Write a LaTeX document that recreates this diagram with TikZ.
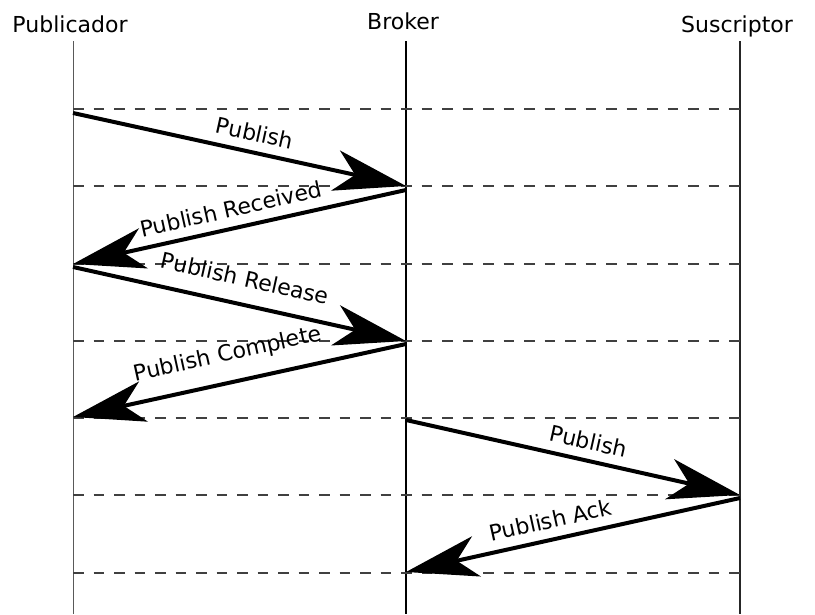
\documentclass[tikz,border=0pt]{standalone}
\usepackage{fontspec}
\setmainfont{DejaVu Sans}
\usetikzlibrary{arrows.meta}
\begin{document}
\begin{tikzpicture}[x=1pt,y=-1pt,
  actor/.style={font=\fontsize{22}{26}\selectfont, inner sep=0pt, anchor=base},
  sep/.style={draw=black!75, line width=1.2pt, dash pattern=on 10.5pt off 10pt},
  msg/.style={line width=4pt, -{Stealth[length=72pt,width=41pt,inset=20pt]}},
  lbl/.style={font=\fontsize{22}{26}\selectfont, sloped, inner sep=0pt, above=9pt}]
\useasboundingbox (0,0) rectangle (815,614);
% actors
\node[actor] (pub) at (70,32) {Publicador};
\node[actor] (bro) at (403,29) {Broker};
\node[actor] (sus) at (737,32) {Suscriptor};
% lifelines
\coordinate (pubT) at (73,41);  \coordinate (pubB) at (73,614);
\coordinate (broT) at (406,41); \coordinate (broB) at (406,614);
\coordinate (susT) at (740,41); \coordinate (susB) at (740,614);
\draw[black!65, line width=1pt] (pubT) -- (pubB);
\draw[black, line width=1.8pt] (broT) -- (broB);
\draw[black!85, line width=1.3pt] (susT) -- (susB);
% separators
\foreach \i/\y in {1/109,2/186,3/264,4/341,5/418,6/495,7/573}{
  \coordinate (sL\i) at (73,\y);
  \coordinate (sR\i) at (740,\y);
  \draw[sep] (sL\i) -- (sR\i);
}
% message endpoints
\coordinate (m1s) at (73,113);  \coordinate (m1e) at (406,186);
\coordinate (m2s) at (406,190); \coordinate (m2e) at (73,264);
\coordinate (m3s) at (73,267);  \coordinate (m3e) at (406,341);
\coordinate (m4s) at (406,344); \coordinate (m4e) at (73,417);
\coordinate (m5s) at (406,420); \coordinate (m5e) at (740,495);
\coordinate (m6s) at (740,498); \coordinate (m6e) at (406,572);
% messages
\draw[msg] (m1s) -- (m1e) node[lbl, pos=.534] {Publish};
\draw[msg] (m2s) -- (m2e) node[lbl, pos=.513] {Publish Received};
\draw[msg] (m3s) -- (m3e) node[lbl, pos=.5, above=7pt] {Publish Release};
\draw[msg] (m4s) -- (m4e) node[lbl, pos=.517, above=6pt] {Publish Complete};
\draw[msg] (m5s) -- (m5e) node[lbl, pos=.534] {Publish};
\draw[msg] (m6s) -- (m6e) node[lbl, pos=.555] {Publish Ack};
\end{tikzpicture}
\end{document}
